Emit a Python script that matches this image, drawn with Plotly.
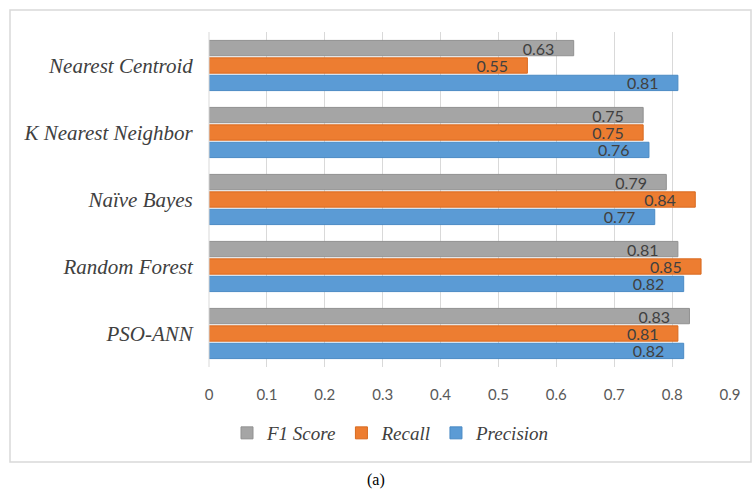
import plotly.graph_objects as go

categories = ["PSO-ANN", "Random Forest", "Naïve Bayes", "K Nearest Neighbor", "Nearest Centroid"]
precision = [0.82, 0.82, 0.77, 0.76, 0.81]
recall = [0.81, 0.85, 0.84, 0.75, 0.55]
f1_score = [0.83, 0.81, 0.79, 0.75, 0.63]
x_ticks = [0, 0.1, 0.2, 0.3, 0.4, 0.5, 0.6, 0.7, 0.8, 0.9]

W, H = 752, 495
L, R, T, B = 209, 730, 32, 367  # plot area pixel bounds
SERIF = "Liberation Serif, Times New Roman, DejaVu Serif, serif"


def px_x(p):
    return (p - L) / (R - L)


def px_y(p):
    return (B - p) / (B - T)


series = [
    ("Precision", precision, "#5B9BD5", "#4A8AC4"),
    ("Recall", recall, "#ED7D31", "#D86A20"),
    ("F1 Score", f1_score, "#A5A5A5", "#919191"),
]

fig = go.Figure()
for name, vals, col, edge in series:
    fig.add_trace(go.Bar(
        y=categories, x=vals, name=name, orientation="h",
        marker=dict(color=col, line=dict(color=edge, width=1)),
        text=vals, texttemplate="%{x}\u00a0\u00a0\u00a0\u00a0",
        textposition="inside", insidetextanchor="end",
        textfont=dict(family="Lato", size=16, color="#404040"),
    ))

fig.update_layout(
    width=W, height=H,
    margin=dict(l=L, r=W - R, t=T, b=H - B),
    paper_bgcolor="white", plot_bgcolor="white",
    barmode="group", bargap=0.22, bargroupgap=0.12,
    uniformtext=dict(minsize=16, mode="show"),
    showlegend=True,
    legend=dict(
        orientation="h", traceorder="reversed",
        x=px_x(391), y=px_y(433), xanchor="center", yanchor="middle",
        font=dict(family=SERIF, size=19, color="#404040", style="italic"),
        itemwidth=30,
    ),
    xaxis=dict(
        range=[0, 0.9], tickvals=x_ticks, ticktext=[f"{v:g}" for v in x_ticks],
        showgrid=True, gridcolor="#D9D9D9", gridwidth=1,
        zeroline=False, showline=False,
        ticks="outside", ticklen=14, tickcolor="rgba(0,0,0,0)",
        tickfont=dict(family="Lato", size=15, color="#595959"),
    ),
    yaxis=dict(
        showgrid=False, zeroline=False, showline=False,
        ticks="outside", ticklen=11, tickcolor="rgba(0,0,0,0)",
        tickfont=dict(family=SERIF, size=21, color="#404040", style="italic"),
    ),
    shapes=[
        dict(type="line", xref="paper", yref="paper", x0=0, x1=0, y0=0, y1=1,
             line=dict(color="#D9D9D9", width=1)),
        dict(type="rect", xref="paper", yref="paper",
             x0=px_x(10), x1=px_x(751), y0=px_y(462), y1=px_y(10),
             line=dict(color="#D9D9D9", width=1.5), fillcolor="rgba(0,0,0,0)"),
    ],
    annotations=[
        dict(text="(a)", xref="paper", yref="paper", x=px_x(376), y=px_y(480),
             showarrow=False, xanchor="center", yanchor="middle",
             font=dict(family=SERIF, size=16, color="#000000")),
    ],
)

fig.write_html("out.html")
